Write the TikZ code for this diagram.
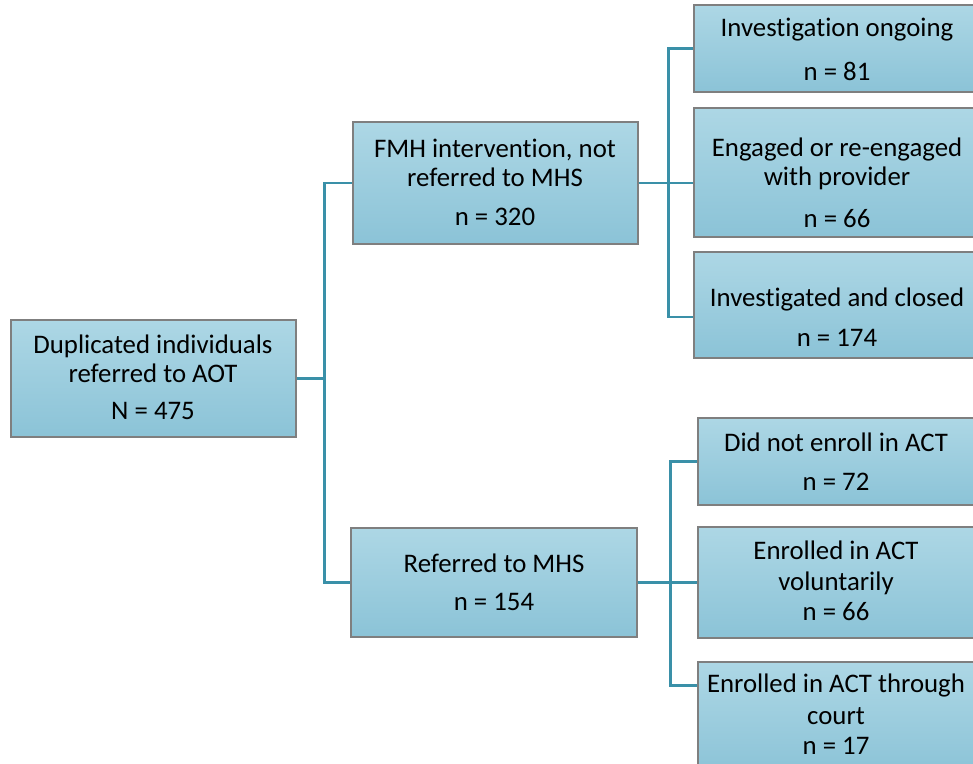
\documentclass[tikz,border=0pt]{standalone}
\usepackage{fontspec}
\setmainfont{Carlito}[Ligatures={NoCommon}]
\definecolor{boxtop}{HTML}{ADD7E5}
\definecolor{boxbot}{HTML}{8BC3D7}
\definecolor{boxline}{HTML}{7F7F7F}
\definecolor{conncol}{HTML}{3A90A8}
\tikzset{
  box/.style={rectangle, draw=boxline, line width=1.3pt, top color=boxtop, bottom color=boxbot, inner sep=0pt},
  txt/.style={align=center, font=\fontsize{26.8}{29}\selectfont, inner sep=0pt, text=black},
  link/.style={draw=conncol, line width=2.6pt}
}
\begin{document}
\begin{tikzpicture}[x=1pt,y=-1pt]
\useasboundingbox (0,0) rectangle (973,763);
\clip (0,0) rectangle (973,763);
\fill[white] (0,0) rectangle (973,763);
% box positions
\coordinate (rootc) at (153.5,378.5);
\coordinate (fmhc) at (495.5,183);
\coordinate (refc) at (494,582.5);
\coordinate (ioc) at (834.5,48.5);
\coordinate (engc) at (834.5,172.5);
\coordinate (icc) at (834.5,305);
\coordinate (dnec) at (836.5,461.5);
\coordinate (evc) at (836.5,582.5);
\coordinate (courtc) at (836.5,718.5);
\node[box, minimum width=285pt, minimum height=117pt] (root) at (rootc) {};
\node[box, minimum width=285pt, minimum height=122pt] (fmh) at (fmhc) {};
\node[box, minimum width=286pt, minimum height=109pt] (ref) at (refc) {};
\node[box, minimum width=281pt, minimum height=87pt] (io) at (ioc) {};
\node[box, minimum width=281pt, minimum height=129pt] (eng) at (engc) {};
\node[box, minimum width=281pt, minimum height=106pt] (ic) at (icc) {};
\node[box, minimum width=277pt, minimum height=87pt] (dne) at (dnec) {};
\node[box, minimum width=277pt, minimum height=111pt] (ev) at (evc) {};
\node[box, minimum width=277pt, minimum height=113pt] (court) at (courtc) {};
% texts
\node[txt] (root-t) at (153,377) {Duplicated individuals\\referred to AOT\\[8pt]N = 475};
\node[txt] (fmh-t) at (495,182) {FMH intervention, not\\referred to MHS\\[10pt]n = 320};
\node[txt] (ref-t) at (494,582) {Referred to MHS\\[9pt]n = 154};
\node[txt] (io-t) at (837,49) {Investigation ongoing\\[15pt]n = 81};
\node[txt] (eng-t) at (837,183) {Engaged or re-engaged\\with provider\\[13pt]n = 66};
\node[txt] (ic-t) at (837,317) {Investigated and closed\\[11pt]n = 174};
\node[txt] (dne-t) at (836,462) {Did not enroll in ACT\\[10pt]n = 72};
\node[txt] (ev-t) at (836,581) {Enrolled in ACT\\[2pt]voluntarily\\[1pt]n = 66};
\node[txt] (court-t) at (836,714) {Enrolled in ACT through\\[3pt]court\\[1pt]n = 17};
% connectors
\draw[link] (root.east) -- ++(28,0) |- (fmh.west);
\draw[link] (root.east) -- ++(28,0) |- (ref.west);
\draw[link] (fmh.east) -- ++(30,0) |- (io.west);
\draw[link] (fmh.east) -- (fmh.east -| eng.west);
\draw[link] (fmh.east) -- ++(30,0) |- (ic.west |- ic-t);
\draw[link] (ref.east) -- ++(33,0) |- (dne.west);
\draw[link] (ref.east) -- (ref.east -| ev.west);
\draw[link] (ref.east) -- ++(33,0) |- ([yshift=-24pt]court.north west);
\end{tikzpicture}
\end{document}
